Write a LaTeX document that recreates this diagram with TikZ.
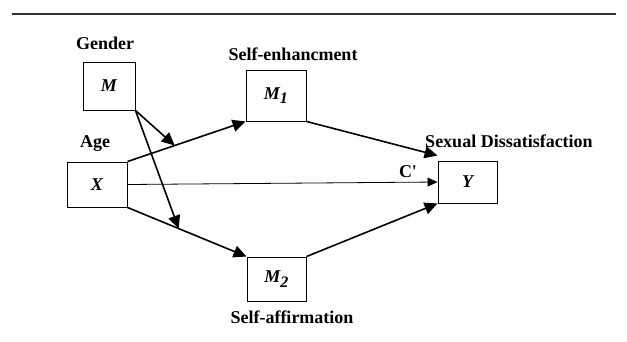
\documentclass[tikz,border=0pt]{standalone}
\usepackage{fontspec}
\setmainfont{Liberation Serif}[Ligatures=TeXOff]
\usetikzlibrary{arrows.meta}
\begin{document}
\begin{tikzpicture}[x=1pt,y=-1pt,
  box/.style={draw, line width=0.9pt, inner sep=0pt, font=\fontsize{18}{20}\selectfont\bfseries\itshape},
  lbl/.style={anchor=base, inner sep=0pt, font=\fontsize{18}{20}\selectfont\bfseries},
  arr/.style={line width=1.6pt, -{Triangle[length=13pt,width=12pt]}},
  thinarr/.style={line width=0.8pt, -{Triangle[length=10pt,width=9pt]}}]
\useasboundingbox (0,0) rectangle (627,341);
\draw[line width=1.2pt, black!80] (12,14) -- (616,14);
\node[box, minimum width=52pt, minimum height=48pt] (M) at (109,86) {M};
\node[box, minimum width=60pt, minimum height=51pt] (M1) at (276,95.5) {M\textsubscript{\fontsize{16}{18}\selectfont 1}};
\node[box, minimum width=60pt, minimum height=45pt] (X) at (97,184.5) {X};
\node[box, minimum width=59pt, minimum height=42pt] (Y) at (467.5,182) {Y};
\node[box, minimum width=59pt, minimum height=44pt] (M2) at (276.5,279) {M\textsubscript{\fontsize{16}{18}\selectfont 2}};
\node[lbl] (lg) at (105,49) {Gender};
\node[lbl] (lse) at (293,60) {Self-enhancment};
\node[lbl] (la) at (95,147) {Age};
\node[lbl] (lsd) at (509,147) {Sexual Dissatisfaction};
\node[lbl] (lc) at (408,177) {C'};
\node[lbl] (lsa) at (292,323) {Self-affirmation};
\draw[arr] (X.north east) -- (M1.south west) coordinate[pos=0.4] (a1);
\draw[arr] (M1.south east) -- ([yshift=5pt]Y.north west);
\draw[thinarr] (X.east) -- (Y.west);
\draw[arr] (X.south east) -- (M2.north west) coordinate[pos=0.43] (a2);
\draw[arr] (M2.north east) -- (Y.south west);
\draw[arr] (M.south east) -- (a1);
\draw[arr] (M.south east) -- (a2);
\end{tikzpicture}
\end{document}
